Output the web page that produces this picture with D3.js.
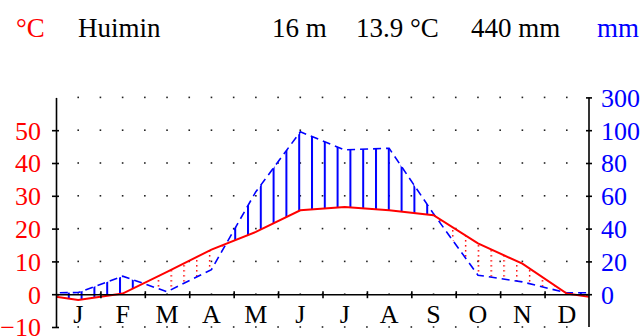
<!DOCTYPE html>
<html>
<head>
<meta charset="utf-8">
<script src="https://cdn.jsdelivr.net/npm/d3@7"></script>
<style>
  body { margin: 0; background: #fff; }
  svg { display: block; font-family: "Liberation Serif", "Times New Roman", serif; }
  .axis text { font-family: "Liberation Serif", "Times New Roman", serif; }
</style>
</head>
<body>
<div id="chart"></div>
<script>
// Huimin climate diagram (Walter-Lieth style)
var months = ["J", "F", "M", "A", "M", "J", "J", "A", "S", "O", "N", "D"];
var temperature = [-1.8, 0.2, 6.8, 13.6, 19.0, 25.6, 26.6, 25.6, 24.1, 15.5, 9.3, 0.2];
var precipitation = [1, 11, 1.5, 15, 62.5, 99, 88, 89, 49, 11.6, 7.5, 0.8];
var tempTicks = [-10, 0, 10, 20, 30, 40, 50];
var precTicks = [0, 20, 40, 60, 80, 100, 300];
var header = {station: "Huimin", height: "16 m", meanTemp: "13.9 °C", totalPrec: "440 mm"};

var width = 643, height = 336;
var left = 56, right = 589;

var svg = d3.select('#chart').append('svg')
    .attr('width', width)
    .attr('height', height);

var x = d3.scaleLinear().domain([0, 12]).range([left, right]);
var yT = d3.scaleLinear().domain([-10, 60]).range([327, 97.4]);
var yP = d3.scaleLinear().domain([0, 100, 300]).range([yT(0), yT(50), yT(60)]);

// wrap December before January and January after December
var idx = d3.range(-1, 13);
var pts = idx.map(function(i) {
  var m = (i + 12) % 12;
  return {m: i + 0.5, t: temperature[m], p: precipitation[m]};
});

var defs = svg.append('defs');
defs.append('clipPath').attr('id', 'plot-clip')
  .append('rect').attr('x', left).attr('y', 0)
  .attr('width', right - left).attr('height', height);

var aboveT = d3.area().x(function(d) { return x(d.m); })
    .y0(function(d) { return yT(d.t); }).y1(0);
var belowT = d3.area().x(function(d) { return x(d.m); })
    .y0(function(d) { return yT(d.t); }).y1(height);
defs.append('clipPath').attr('id', 'humid-clip')
  .append('path').attr('d', aboveT(pts));
defs.append('clipPath').attr('id', 'arid-clip')
  .append('path').attr('d', belowT(pts));

var step = 12.8;
var bluePat = defs.append('pattern').attr('id', 'blue-hatch')
    .attr('patternUnits', 'userSpaceOnUse')
    .attr('x', left - 1).attr('y', 0)
    .attr('width', step).attr('height', 10);
bluePat.append('rect').attr('x', 0).attr('y', 0)
    .attr('width', 2).attr('height', 10).attr('fill', '#0000ff');

var redPat = defs.append('pattern').attr('id', 'red-hatch')
    .attr('patternUnits', 'userSpaceOnUse')
    .attr('x', left - 0.7).attr('y', 0)
    .attr('width', step).attr('height', 5);
redPat.append('rect').attr('x', 0).attr('y', 0)
    .attr('width', 1.4).attr('height', 1.6).attr('fill', '#ff0000');

// dotted grid
var gridX = d3.range(1, 24).map(function(k) { return x(k / 2); });
var gridY = d3.range(-10, 70, 10);
var grid = svg.append('g').attr('class', 'grid');
gridY.forEach(function(t) {
  grid.selectAll(null).data(gridX).enter().append('rect')
    .attr('x', function(d) { return d - 0.8; })
    .attr('y', yT(t) - 0.8)
    .attr('width', 1.6).attr('height', 1.6)
    .attr('fill', '#222');
});

// humid / arid areas between the two curves
var between = d3.area().x(function(d) { return x(d.m); })
    .y0(function(d) { return yT(d.t); })
    .y1(function(d) { return yP(d.p); });

var plot = svg.append('g').attr('clip-path', 'url(#plot-clip)');
plot.append('g').attr('clip-path', 'url(#humid-clip)')
  .append('path').attr('d', between(pts)).attr('fill', 'url(#blue-hatch)');
plot.append('g').attr('clip-path', 'url(#arid-clip)')
  .append('path').attr('d', between(pts)).attr('fill', 'url(#red-hatch)');

// axes
var xAxis = svg.append('g').attr('class', 'axis')
    .attr('transform', 'translate(0,' + yT(0) + ')')
    .call(d3.axisBottom(x).tickValues(d3.range(1, 12)).tickFormat('').tickSizeOuter(0));
xAxis.select('.domain').attr('stroke', '#000').attr('stroke-width', 1.6);
xAxis.selectAll('.tick line').attr('y1', -3).attr('y2', 4).attr('stroke-width', 1.6);

svg.append('g').selectAll('text').data(months).enter().append('text')
  .attr('x', function(d, i) { return x(i + 0.5); })
  .attr('y', 322.5)
  .attr('text-anchor', 'middle')
  .attr('font-size', 26)
  .attr('fill', '#000')
  .text(function(d) { return d; });

var lAxis = svg.append('g').attr('class', 'axis')
    .attr('transform', 'translate(' + left + ',0)')
    .call(d3.axisLeft(yT).tickValues(tempTicks).tickSizeOuter(0).tickPadding(9));
lAxis.select('.domain').attr('stroke', '#000').attr('stroke-width', 1.6);
lAxis.selectAll('.tick line').attr('x1', -4).attr('x2', 3).attr('stroke-width', 1.6);
lAxis.selectAll('.tick text').attr('font-size', 26).attr('fill', '#ff0000').attr('dy', '0.34em');

var rAxis = svg.append('g').attr('class', 'axis')
    .attr('transform', 'translate(' + right + ',0)')
    .call(d3.axisRight(yP).tickValues(precTicks).tickSizeOuter(0).tickPadding(6));
rAxis.select('.domain').remove();
rAxis.selectAll('.tick line').attr('x1', -3).attr('x2', 3).attr('stroke-width', 1.6);
rAxis.selectAll('.tick text').attr('font-size', 26).attr('fill', '#0000ff').attr('dy', '0.34em');
rAxis.append('line').attr('x1', 0).attr('x2', 0)
  .attr('y1', yT(-10)).attr('y2', yT(60))
  .attr('stroke', '#000').attr('stroke-width', 1.6);

// precipitation (dashed) and temperature lines
plot.append('path')
  .attr('d', d3.line().x(function(d) { return x(d.m); }).y(function(d) { return yP(d.p); })(pts))
  .attr('fill', 'none').attr('stroke', '#0000ff').attr('stroke-width', 1.6)
  .attr('stroke-dasharray', '8,5');
plot.append('path')
  .attr('d', d3.line().x(function(d) { return x(d.m); }).y(function(d) { return yT(d.t); })(pts))
  .attr('fill', 'none').attr('stroke', '#ff0000').attr('stroke-width', 2);

// header
var head = svg.append('g').attr('font-size', 27);
head.append('text').attr('x', 16).attr('y', 37).attr('fill', '#ff0000').text('°C');
head.append('text').attr('x', 78).attr('y', 37).attr('fill', '#000').text(header.station);
head.append('text').attr('x', 272).attr('y', 37).attr('fill', '#000').text(header.height);
head.append('text').attr('x', 356).attr('y', 37).attr('fill', '#000').text(header.meanTemp);
head.append('text').attr('x', 471).attr('y', 37).attr('fill', '#000').text(header.totalPrec);
head.append('text').attr('x', 597).attr('y', 37).attr('fill', '#0000ff').text('mm');
</script>
</body>
</html>
